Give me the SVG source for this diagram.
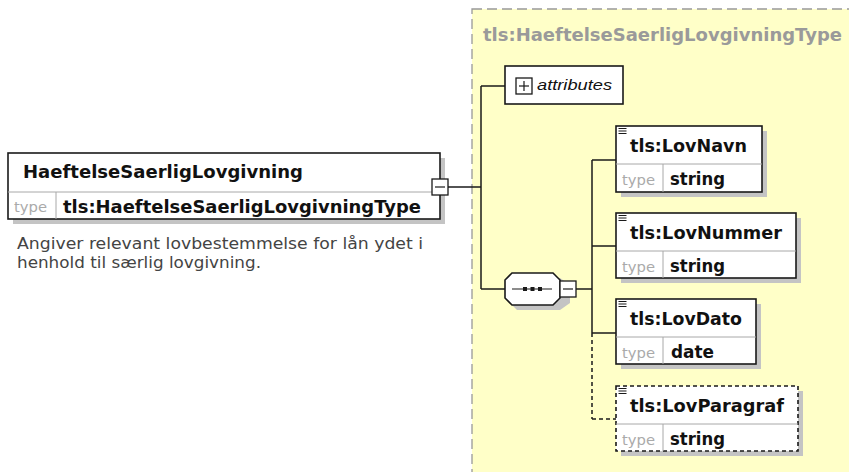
<svg xmlns="http://www.w3.org/2000/svg" width="849" height="472" viewBox="0 0 849 472">
<style>
.bg{fill:#ffffff}
.complex{fill:#ffffc8;stroke:#999999;stroke-width:1.3;stroke-dasharray:10,5}
.box{fill:#ffffff;stroke:#1a1a1a;stroke-width:1.6}
.dbox{fill:#ffffff;stroke:#1a1a1a;stroke-width:1.6;stroke-dasharray:4,3}
.shadow{fill:#c4c4c4}
.div{stroke:#a8a8a8;stroke-width:1}
.conn{stroke:#1a1a1a;stroke-width:1.5;fill:none}
.dconn{stroke:#1a1a1a;stroke-width:1.5;fill:none;stroke-dasharray:4,3}
.name{font-family:"DejaVu Sans",sans-serif;font-weight:bold;font-size:17px;fill:#111111}
.tlabel{font-family:"DejaVu Sans",sans-serif;font-size:14px;fill:#aaaaaa}
.tval{font-family:"DejaVu Sans",sans-serif;font-weight:bold;font-size:17px;fill:#111111}
.title{font-family:"DejaVu Sans",sans-serif;font-weight:bold;font-size:17px;fill:#9a9a9a}
.desc{font-family:"DejaVu Sans",sans-serif;font-size:15px;fill:#444444}
.attr{font-family:"Liberation Sans",Arial,sans-serif;font-style:italic;font-size:15px;fill:#111111}
.icon{stroke:#1a1a1a;stroke-width:1.3;fill:#ffffff}
.ln{stroke:#1a1a1a;stroke-width:1.2}
</style>
<rect class="bg" x="0" y="0" width="849" height="472"/>
<rect class="complex" x="472" y="9" width="400" height="480"/>
<text class="title" x="483" y="41" textLength="359" lengthAdjust="spacingAndGlyphs">tls:HaeftelseSaerligLovgivningType</text>

<g id="connectors">
  <line class="conn" x1="448" y1="187" x2="481" y2="187"/>
  <line class="conn" x1="481" y1="86" x2="481" y2="289"/>
  <line class="conn" x1="481" y1="86" x2="505" y2="86"/>
  <line class="conn" x1="481" y1="289" x2="505" y2="289"/>
  <line class="conn" x1="576" y1="289" x2="592" y2="289"/>
  <line class="conn" x1="592" y1="160" x2="592" y2="333"/>
  <line class="dconn" x1="592" y1="333" x2="592" y2="419"/>
  <line class="conn" x1="592" y1="160" x2="616" y2="160"/>
  <line class="conn" x1="592" y1="246" x2="616" y2="246"/>
  <line class="conn" x1="592" y1="333" x2="616" y2="333"/>
  <line class="dconn" x1="592" y1="419" x2="616" y2="419"/>
</g>

<g id="HaeftelseSaerligLovgivning">
  <rect class="shadow" x="13" y="158" width="432" height="66"/>
  <rect class="box" x="8" y="153" width="432" height="66"/>
  <line class="div" x1="8" y1="192" x2="440" y2="192"/>
  <line class="div" x1="56" y1="192" x2="56" y2="219"/>
  <text class="name" x="23" y="178" textLength="280" lengthAdjust="spacingAndGlyphs">HaeftelseSaerligLovgivning</text>
  <text class="tlabel" x="14" y="212" textLength="33" lengthAdjust="spacingAndGlyphs">type</text>
  <text class="tval" x="63" y="213" textLength="358" lengthAdjust="spacingAndGlyphs">tls:HaeftelseSaerligLovgivningType</text>
  <rect class="icon" x="432" y="179" width="16" height="16"/>
  <line class="ln" x1="435" y1="187" x2="445" y2="187"/>
  <text class="desc" x="17" y="249" textLength="406" lengthAdjust="spacingAndGlyphs">Angiver relevant lovbestemmelse for lån ydet i</text>
  <text class="desc" x="17" y="268" textLength="244" lengthAdjust="spacingAndGlyphs">henhold til særlig lovgivning.</text>
</g>

<g id="attributes">
  <rect class="box" x="505" y="66" width="118" height="38"/>
  <rect class="icon" x="516" y="78" width="16" height="16"/>
  <line class="ln" x1="519" y1="86" x2="529" y2="86"/>
  <line class="ln" x1="524" y1="81" x2="524" y2="91"/>
  <text class="attr" x="537" y="90" textLength="75" lengthAdjust="spacingAndGlyphs">attributes</text>
</g>

<g id="sequence">
  <polygon class="shadow" points="517,278 560,278 570,285 570,303 560,310 517,310 510,303 510,285"/>
  <polygon class="box" points="512,273 553,273 560,280 560,298 553,305 512,305 505,298 505,280"/>
  <line class="ln" x1="512" y1="289" x2="552" y2="289"/>
  <rect x="523" y="287" width="4" height="4" fill="#1a1a1a"/>
  <rect x="530.5" y="287" width="4" height="4" fill="#1a1a1a"/>
  <rect x="538" y="287" width="4" height="4" fill="#1a1a1a"/>
  <rect class="icon" x="560" y="281" width="16" height="16"/>
  <line class="ln" x1="563" y1="289" x2="573" y2="289"/>
</g>

<g id="LovNavn">
  <rect class="shadow" x="621" y="131" width="146" height="66"/>
  <rect class="box" x="616" y="126" width="146" height="66"/>
  <line class="div" x1="616" y1="164" x2="762" y2="164"/>
  <line class="div" x1="663" y1="164" x2="663" y2="192"/>
  <path class="ln" d="M618.5,128.5h8M618.5,131h8M618.5,133.5h8"/>
  <text class="name" x="630" y="152" textLength="117" lengthAdjust="spacingAndGlyphs">tls:LovNavn</text>
  <text class="tlabel" x="622" y="185" textLength="33" lengthAdjust="spacingAndGlyphs">type</text>
  <text class="tval" x="670" y="185" textLength="55" lengthAdjust="spacingAndGlyphs">string</text>
</g>

<g id="LovNummer">
  <rect class="shadow" x="621" y="218" width="180" height="65"/>
  <rect class="box" x="616" y="213" width="180" height="65"/>
  <line class="div" x1="616" y1="251" x2="796" y2="251"/>
  <line class="div" x1="663" y1="251" x2="663" y2="278"/>
  <path class="ln" d="M618.5,215.5h8M618.5,218h8M618.5,220.5h8"/>
  <text class="name" x="630" y="239" textLength="152" lengthAdjust="spacingAndGlyphs">tls:LovNummer</text>
  <text class="tlabel" x="622" y="272" textLength="33" lengthAdjust="spacingAndGlyphs">type</text>
  <text class="tval" x="670" y="272" textLength="55" lengthAdjust="spacingAndGlyphs">string</text>
</g>

<g id="LovDato">
  <rect class="shadow" x="621" y="304" width="140" height="65"/>
  <rect class="box" x="616" y="299" width="140" height="65"/>
  <line class="div" x1="616" y1="337" x2="756" y2="337"/>
  <line class="div" x1="663" y1="337" x2="663" y2="364"/>
  <path class="ln" d="M618.5,301.5h8M618.5,304h8M618.5,306.5h8"/>
  <text class="name" x="630" y="325" textLength="112" lengthAdjust="spacingAndGlyphs">tls:LovDato</text>
  <text class="tlabel" x="622" y="358" textLength="33" lengthAdjust="spacingAndGlyphs">type</text>
  <text class="tval" x="671" y="358" textLength="43" lengthAdjust="spacingAndGlyphs">date</text>
</g>

<g id="LovParagraf">
  <rect class="shadow" x="621" y="391" width="182" height="65"/>
  <rect class="dbox" x="616" y="386" width="182" height="65"/>
  <line class="div" x1="616" y1="424" x2="798" y2="424"/>
  <line class="div" x1="663" y1="424" x2="663" y2="451"/>
  <path class="ln" d="M618.5,388.5h8M618.5,391h8M618.5,393.5h8"/>
  <text class="name" x="630" y="412" textLength="154" lengthAdjust="spacingAndGlyphs">tls:LovParagraf</text>
  <text class="tlabel" x="622" y="445" textLength="33" lengthAdjust="spacingAndGlyphs">type</text>
  <text class="tval" x="670" y="445" textLength="55" lengthAdjust="spacingAndGlyphs">string</text>
</g>
</svg>
